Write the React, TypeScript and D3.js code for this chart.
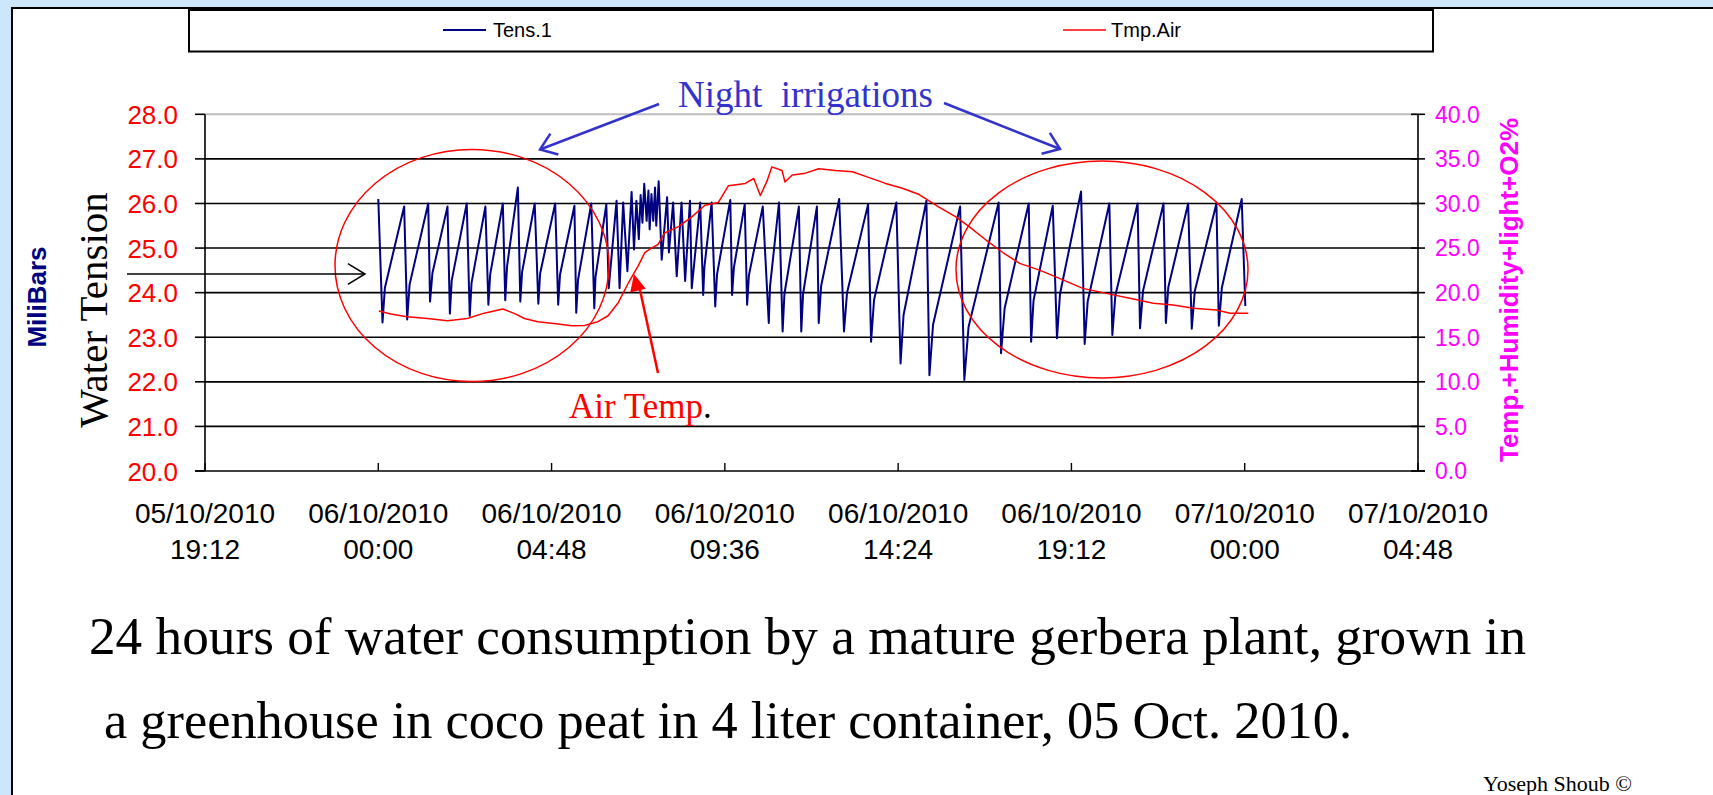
import React from 'react';
import * as d3 from 'd3';

// tick labels along the time axis (every 4h48)
const xTickLabels = [
  '05/10/2010 19:12',
  '06/10/2010 00:00',
  '06/10/2010 04:48',
  '06/10/2010 09:36',
  '06/10/2010 14:24',
  '06/10/2010 19:12',
  '07/10/2010 00:00',
  '07/10/2010 04:48',
];
const leftTicks = [20, 21, 22, 23, 24, 25, 26, 27, 28];
const rightTicks = [0, 5, 10, 15, 20, 25, 30, 35, 40];

// Tens.1 (mbar) : [minutes after 06/10/2010 00:00, value]
const tens1 = [
  [0, 26.1], [7, 23.33], [11, 24.11], [43, 25.93], [48, 23.4], [52, 24.18], [83, 26.0], [86, 23.8], [90, 24.44],
  [115, 25.93], [119, 23.53], [122, 24.27], [147, 26.0], [152, 23.48], [155, 24.22], [178, 25.93], [183, 23.73],
  [186, 24.41], [207, 26.0], [211, 23.83], [214, 24.59], [232, 26.36], [236, 23.8], [239, 24.46], [260, 26.0],
  [266, 23.75], [269, 24.43], [294, 26.0], [299, 23.73], [302, 24.4], [326, 25.95], [329, 23.55], [332, 24.29],
  [354, 26.0], [359, 23.65], [361, 24.35], [379, 25.98], [383, 24.1], [396, 26.06], [401, 24.1], [407, 26.02],
  [414, 24.48], [421, 26.26], [425, 24.97], [429, 26.06], [433, 25.2], [436, 26.19], [439, 25.57], [442, 26.44],
  [446, 25.61], [449, 26.29], [451, 25.42], [454, 26.21], [457, 25.61], [460, 26.36], [462, 25.5], [466, 26.5],
  [471, 24.74], [480, 26.14], [483, 24.9], [490, 26.02], [496, 24.37], [504, 26.02], [510, 24.26], [518, 26.06],
  [521, 24.1], [535, 26.02], [540, 23.95], [542, 24.57], [554, 26.02], [560, 23.69], [563, 24.41], [585, 26.08],
  [588, 23.95], [591, 24.56], [609, 25.98], [613, 23.73], [616, 24.39], [639, 25.93], [649, 23.32], [651, 24.13],
  [666, 26.02], [672, 23.13], [675, 23.97], [699, 25.93], [703, 23.13], [706, 23.97], [729, 25.93], [732, 23.32],
  [736, 24.15], [766, 26.1], [774, 23.13], [779, 23.99], [814, 25.98], [819, 22.9], [824, 23.84], [861, 26.02],
  [868, 22.41], [873, 23.5], [911, 26.06], [916, 22.15], [922, 23.28], [967, 25.93], [974, 22.04], [981, 23.23],
  [1031, 26.02], [1035, 22.64], [1041, 23.65], [1081, 26.0], [1085, 22.9], [1089, 23.82], [1121, 25.95],
  [1128, 22.98], [1133, 23.97], [1168, 26.27], [1174, 22.85], [1179, 23.8], [1215, 26.0], [1220, 23.05],
  [1225, 23.94], [1262, 26.0], [1266, 23.2], [1271, 24.04], [1305, 26.0], [1309, 23.32], [1313, 24.12],
  [1346, 26.0], [1352, 23.19], [1357, 24.03], [1393, 26.0], [1397, 23.26], [1402, 24.11], [1435, 26.1],
  [1441, 23.7],
];

// Tmp.Air (right axis) : [minutes after 06/10/2010 00:00, value]
const tmpAir = [
  [1, 17.94], [21, 17.6], [48, 17.3], [82, 17.1], [115, 16.85], [148, 17.1], [176, 17.7], [207, 18.16],
  [226, 17.68], [243, 17.1], [265, 16.74], [299, 16.48], [321, 16.29], [343, 16.33], [365, 16.74], [382, 17.41],
  [399, 18.9], [415, 21.0], [432, 23.0], [443, 24.5], [454, 25.0], [465, 25.4], [476, 26.7], [499, 27.4],
  [521, 28.5], [543, 29.8], [565, 30.1], [582, 32.0], [610, 32.25], [624, 32.8], [635, 30.9], [646, 32.5],
  [654, 34.1], [671, 33.7], [676, 32.4], [688, 33.2], [710, 33.4], [732, 33.9], [760, 33.7], [788, 33.55],
  [816, 32.9], [843, 32.25], [871, 31.7], [899, 31.0], [932, 29.6], [960, 28.5], [982, 27.4], [1010, 25.9],
  [1038, 24.5], [1066, 23.28], [1099, 22.53], [1132, 21.6], [1171, 20.48], [1210, 19.92], [1249, 19.36], [1288, 18.8],
  [1321, 18.61], [1355, 18.24], [1393, 18.05], [1416, 17.68], [1446, 17.68],
];

const captionLines = [
  '24 hours of water consumption by a mature gerbera plant, grown in',
  'a greenhouse in coco peat in 4 liter container, 05 Oct. 2010.',
];

const SANS = '"Liberation Sans", Arial, sans-serif';
const SERIF = '"Liberation Serif", "Times New Roman", serif';

const parse = d3.timeParse('%d/%m/%Y %H:%M');
const fmtDate = d3.timeFormat('%d/%m/%Y');
const fmtTime = d3.timeFormat('%H:%M');
const day0 = parse('06/10/2010 00:00') as Date;

// open arrow head: two arms going back from the tip
function arrowArms(tip: number[], from: number[], len: number, deg: number) {
  const a = Math.atan2(from[1] - tip[1], from[0] - tip[0]);
  const r = (deg * Math.PI) / 180;
  const p1 = [tip[0] + len * Math.cos(a + r), tip[1] + len * Math.sin(a + r)];
  const p2 = [tip[0] + len * Math.cos(a - r), tip[1] + len * Math.sin(a - r)];
  return `M${p1[0]},${p1[1]}L${tip[0]},${tip[1]}L${p2[0]},${p2[1]}`;
}

function arrowFilled(tip: number[], from: number[], len: number, half: number) {
  const a = Math.atan2(from[1] - tip[1], from[0] - tip[0]);
  const bx = tip[0] + len * Math.cos(a);
  const by = tip[1] + len * Math.sin(a);
  const nx = -Math.sin(a) * half;
  const ny = Math.cos(a) * half;
  return `M${tip[0]},${tip[1]}L${bx + nx},${by + ny}L${bx - nx},${by - ny}Z`;
}

export default function App() {
  const W = 1713;
  const H = 795;
  const left = 205;
  const right = 1418;
  const top = 114.3;
  const bottom = 471;

  const tickDates = xTickLabels.map(s => parse(s) as Date);
  const x = d3.scaleTime().domain([tickDates[0], tickDates[tickDates.length - 1]]).range([left, right]);
  const yL = d3.scaleLinear().domain([20, 28]).range([bottom, top]);
  const yR = d3.scaleLinear().domain([0, 40]).range([bottom, top]);
  const t = (m: number) => d3.timeMinute.offset(day0, m);

  const tensLine = d3.line<number[]>().x(d => x(t(d[0]))).y(d => yL(d[1]));
  const airLine = d3.line<number[]>().x(d => x(t(d[0]))).y(d => yR(d[1]));

  const blue = '#3333cc';

  return (
    <svg width={W} height={H} style={{ position: 'absolute', left: 0, top: 0 }}>
      <rect x={0} y={0} width={W} height={H} fill="#cde6fa" />
      <rect x={12} y={8} width={W + 20} height={H + 20} fill="#fff" stroke="#000" strokeWidth={2} />

      {/* legend */}
      <rect x={189} y={10} width={1244} height={41.5} fill="#fff" stroke="#000" strokeWidth={2} />
      <line x1={443} x2={486} y1={30} y2={30} stroke="#000080" strokeWidth={2} />
      <text x={493} y={37} fontFamily={SANS} fontSize={20}>Tens.1</text>
      <line x1={1063} x2={1106} y1={30} y2={30} stroke="#ff0000" strokeWidth={1.5} />
      <text x={1111} y={37} fontFamily={SANS} fontSize={20}>Tmp.Air</text>

      {/* grid */}
      {leftTicks.slice(1).map(v => (
        <line key={v} x1={left} x2={right} y1={yL(v)} y2={yL(v)}
          stroke={v === 28 ? '#bdbdbd' : '#000'} strokeWidth={v === 28 ? 2 : 1.6} />
      ))}

      {/* left axis */}
      <line x1={left} x2={left} y1={top} y2={bottom} stroke="#000" strokeWidth={1.6} />
      {leftTicks.map(v => (
        <g key={v}>
          <line x1={left - 10} x2={left} y1={yL(v)} y2={yL(v)} stroke="#000" strokeWidth={1.6} />
          <text x={178} y={yL(v) + 9.5} textAnchor="end" fill="#ff0000" fontFamily={SANS} fontSize={26}>
            {v.toFixed(1)}
          </text>
        </g>
      ))}

      {/* right axis */}
      <line x1={right} x2={right} y1={top} y2={bottom} stroke="#000" strokeWidth={1.6} />
      {rightTicks.map(v => (
        <g key={v}>
          <line x1={right - 7} x2={right + 7} y1={yR(v)} y2={yR(v)} stroke="#000" strokeWidth={1.6} />
          <text x={1435} y={yR(v) + 8.3} fill="#ff00ff" fontFamily={SANS} fontSize={23}>
            {v.toFixed(1)}
          </text>
        </g>
      ))}

      {/* bottom axis */}
      <line x1={left - 10} x2={right + 7} y1={bottom} y2={bottom} stroke="#000" strokeWidth={1.6} />
      {tickDates.map((d, i) => (
        <g key={i}>
          <line x1={x(d)} x2={x(d)} y1={bottom} y2={bottom - 8} stroke="#000" strokeWidth={1.4} />
          <text x={x(d)} y={522.7} textAnchor="middle" fontFamily={SANS} fontSize={28}>{fmtDate(d)}</text>
          <text x={x(d)} y={559.3} textAnchor="middle" fontFamily={SANS} fontSize={28}>{fmtTime(d)}</text>
        </g>
      ))}

      {/* series */}
      <path d={tensLine(tens1) || ''} fill="none" stroke="#000080" strokeWidth={2} strokeLinejoin="round" />
      <path d={airLine(tmpAir) || ''} fill="none" stroke="#ff0000" strokeWidth={1.5} strokeLinejoin="round" />

      {/* axis titles */}
      <text transform="translate(46,297) rotate(-90)" textAnchor="middle" fill="#000080"
        fontFamily={SANS} fontWeight="bold" fontSize={26}>MiliBars</text>
      <text transform="translate(107,310) rotate(-90)" textAnchor="middle" fill="#000"
        fontFamily={SERIF} fontSize={41}>Water Tension</text>
      <text transform="translate(1518,290) rotate(-90)" textAnchor="middle" fill="#ff00ff"
        fontFamily={SANS} fontWeight="bold" fontSize={26}>Temp.+Humidity+light+O2%</text>

      {/* annotations */}
      <ellipse cx={472} cy={265.5} rx={137} ry={116} fill="none" stroke="#ff0000" strokeWidth={1.5} />
      <ellipse cx={1102} cy={269.5} rx={146} ry={108.5} fill="none" stroke="#ff0000" strokeWidth={1.5} />

      <text x={678} y={106.7} fill={blue} fontFamily={SERIF} fontSize={37} style={{ whiteSpace: 'pre' }}>
        {'Night  irrigations'}
      </text>
      <line x1={659} y1={104} x2={540} y2={149.5} stroke={blue} strokeWidth={2.5} />
      <path d={arrowArms([540, 149.5], [659, 104], 19, 36)} fill="none" stroke={blue} strokeWidth={2.5} />
      <line x1={944} y1={103} x2={1060} y2={149} stroke={blue} strokeWidth={2.5} />
      <path d={arrowArms([1060, 149], [944, 103], 19, 36)} fill="none" stroke={blue} strokeWidth={2.5} />

      <line x1={127} y1={274} x2={365} y2={274} stroke="#000" strokeWidth={1.5} />
      <path d={arrowArms([365, 274], [127, 274], 20, 31)} fill="none" stroke="#000" strokeWidth={1.5} />

      <line x1={658} y1={373} x2={640} y2={290} stroke="#ff0000" strokeWidth={2.5} />
      <path d={arrowFilled([634, 274], [658, 373], 17, 8)} fill="#ff0000" />
      <text x={569} y={418.3} fontFamily={SERIF} fontSize={35}>
        <tspan fill="#ff0000">Air Temp</tspan><tspan fill="#000">.</tspan>
      </text>

      {/* caption */}
      <text x={89} y={654} fontFamily={SERIF} fontSize={52} textLength={1437} lengthAdjust="spacingAndGlyphs">
        {captionLines[0]}
      </text>
      <text x={104} y={738.3} fontFamily={SERIF} fontSize={52} textLength={1248} lengthAdjust="spacingAndGlyphs">
        {captionLines[1]}
      </text>
      <text x={1483} y={791} fontFamily={SERIF} fontSize={22}>Yoseph Shoub ©</text>
    </svg>
  );
}
